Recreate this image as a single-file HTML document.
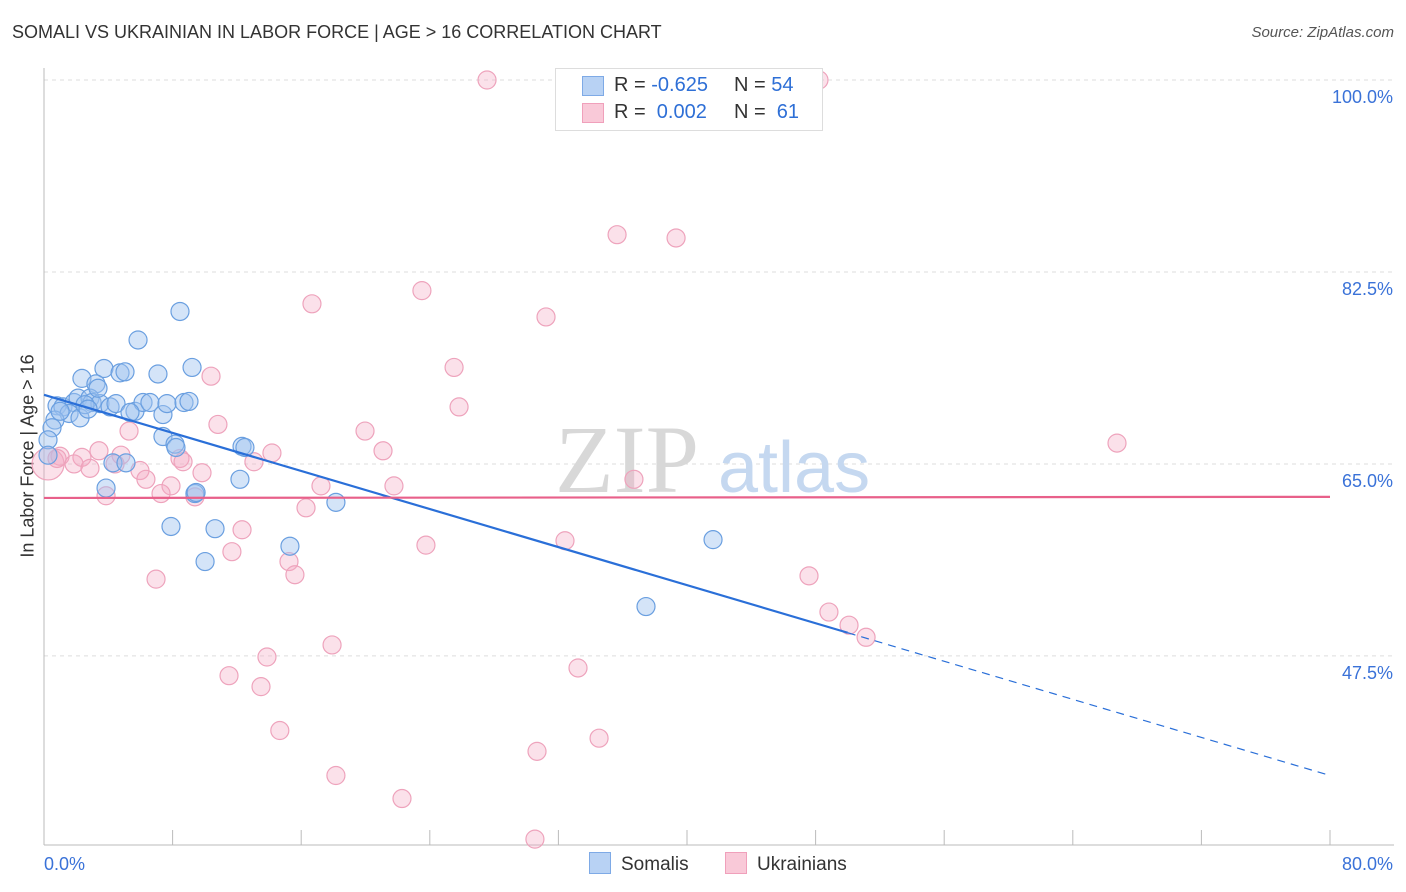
<!DOCTYPE html>
<html><head><meta charset="utf-8">
<style>
body{margin:0;background:#fff;font-family:"Liberation Sans",sans-serif;}
#wrap{position:relative;width:1406px;height:892px;overflow:hidden;}
.t{position:absolute;white-space:nowrap;}
</style></head>
<body>
<div id="wrap">
<div class="t" style="left:12px;top:22px;font-size:18px;color:#333;">SOMALI VS UKRAINIAN IN LABOR FORCE | AGE &gt; 16 CORRELATION CHART</div>
<div class="t" style="right:12px;top:24px;font-size:15px;color:#555;font-style:italic;">Source: ZipAtlas.com</div>
<div class="t" style="left:28px;top:456px;font-size:18px;color:#333;transform:translate(-50%,-50%) rotate(-90deg);">In Labor Force | Age &gt; 16</div>
<svg id="svg" width="1406" height="892" style="position:absolute;left:0;top:0;"></svg>
</div>
<script>
const yTicks=[100,82.5,65,47.5];
const yTickLabels=["100.0%","82.5%","65.0%","47.5%"];
const xTicks=[0,8,16,24,32,40,48,56,64,72,80];
const somaliX=[8.46,5.85,3.73,2.36,3.23,4.73,5.04,7.09,9.21,0.81,1.18,1.87,2.12,2.86,2.99,3.48,4.11,5.66,6.16,6.59,7.40,7.65,8.71,9.02,1.56,2.24,0.68,0.50,0.25,7.40,8.15,8.21,4.29,5.10,12.32,12.50,12.19,3.86,9.39,18.16,7.90,10.64,15.30,10.02,37.45,41.62,3.36,2.55,1.00,2.74,4.48,5.35,0.25,9.46];
const somaliY=[78.9,76.3,73.7,72.8,72.3,73.3,73.4,73.2,73.8,70.3,70.2,70.6,71.0,71.0,70.6,70.5,70.2,69.8,70.6,70.6,69.5,70.5,70.6,70.7,69.6,69.2,69.0,68.3,67.2,67.5,66.8,66.5,65.1,65.1,66.6,66.5,63.6,62.8,62.3,61.5,59.3,59.1,57.5,56.1,52.0,58.1,71.9,70.4,69.8,70.0,70.5,69.7,65.8,62.4];
const ukrX=[27.56,48.21,35.65,39.32,23.51,16.67,31.23,25.51,10.39,25.82,10.82,19.97,5.29,66.75,21.09,14.18,3.42,1.00,2.36,4.79,0.25,0.81,1.87,2.86,4.42,5.97,8.46,8.65,13.06,9.83,6.34,7.90,17.23,21.77,36.70,3.86,7.28,9.39,16.30,12.32,32.41,23.76,11.69,15.24,15.61,6.97,47.59,48.83,50.08,51.14,17.92,13.87,33.22,11.51,13.50,14.67,34.53,30.67,18.16,22.27,30.54];
const ukrY=[100,100,85.9,85.6,80.8,79.6,78.4,73.8,73.0,70.2,68.6,68.0,68.0,66.9,66.2,66.0,66.2,65.7,65.6,65.8,65.0,65.5,65.0,64.6,65.0,64.4,65.5,65.2,65.2,64.2,63.6,63.0,63.0,63.0,63.6,62.1,62.3,62.0,61.0,59.0,58.0,57.6,57.0,56.1,54.9,54.5,54.8,51.5,50.3,49.2,48.5,47.4,46.4,45.7,44.7,40.7,40.0,38.8,36.6,34.5,30.8];
const somaliTrend=[71.3,36.6]; // at x=0, x=80
const somaliSolidEnd=50.0;
const ukrTrend=[61.9,62.0];

const X=v=>44+v*16.075;
const Y=v=>80+(100-v)*10.97;
const svg=document.getElementById('svg');
const NS='http://www.w3.org/2000/svg';
function mk(tag,attrs,parent){const e=document.createElementNS(NS,tag);for(const k in attrs)e.setAttribute(k,attrs[k]);(parent||svg).appendChild(e);return e;}

// grid
yTicks.forEach((t,i)=>{
  const g=mk('line',{x1:44,x2:1394,y1:Y(t),y2:Y(t),stroke:'#dddddd','stroke-dasharray':'4,4'});
  
  
  const tx=mk('text',{x:1393,y:Y(t)+23,'text-anchor':'end','font-size':18,fill:'#3a72d8','font-family':'Liberation Sans, sans-serif'});
  tx.textContent=yTickLabels[i];
  
  
});
// axes
const ya=mk('line',{x1:44,x2:44,y1:68,y2:845,stroke:'#bbb'});


const xa=mk('line',{x1:44,x2:1394,y1:845,y2:845,stroke:'#bbb'});


xTicks.forEach(t=>{
  const l=mk('line',{x1:X(t),x2:X(t),y1:830,y2:845,stroke:'#bbb'});
  
  
});
const xl0=mk('text',{x:44,y:870,'font-size':18,fill:'#3a72d8','font-family':'Liberation Sans, sans-serif'});xl0.textContent='0.0%';


const xl1=mk('text',{x:1393,y:870,'text-anchor':'end','font-size':18,fill:'#3a72d8','font-family':'Liberation Sans, sans-serif'});xl1.textContent='80.0%';



// watermark
const wm=mk('text',{x:555,y:492,'font-size':96,fill:'#d8d8d8','font-family':'Liberation Serif, serif'});wm.textContent='ZIP';


const wm2=mk('text',{x:718,y:492,'font-size':72,fill:'#c5d8f0','font-family':'Liberation Sans, sans-serif'});wm2.textContent='atlas';



// points
ukrX.forEach((x,i)=>{
  const big=(i===20);
  const c=mk('circle',{cx:X(x),cy:Y(ukrY[i]),r:big?16:9,fill:'rgba(244,168,194,0.35)',stroke:'#eea3bc','stroke-width':1.2});
  
  
});
somaliX.forEach((x,i)=>{
  const c=mk('circle',{cx:X(x),cy:Y(somaliY[i]),r:9,fill:'rgba(160,196,240,0.45)',stroke:'#6a9fe0','stroke-width':1.2});
  
  
});
// trend lines
const sy=x=>somaliTrend[0]+(somaliTrend[1]-somaliTrend[0])*x/80;
const t1=mk('line',{x1:X(0),y1:Y(sy(0)),x2:X(somaliSolidEnd),y2:Y(sy(somaliSolidEnd)),stroke:'#2a6fd8','stroke-width':2.2});


const t2=mk('line',{x1:X(somaliSolidEnd),y1:Y(sy(somaliSolidEnd)),x2:X(80),y2:Y(sy(80)),stroke:'#2a6fd8','stroke-width':1.2,'stroke-dasharray':'8,6'});


const t3=mk('line',{x1:X(0),y1:Y(ukrTrend[0]),x2:X(80),y2:Y(ukrTrend[1]),stroke:'#e8608a','stroke-width':2.2});


</script>
<div class="t" style="left:555px;top:68px;width:266px;height:61px;border:1px solid #ddd;background:#fff;font-size:20px;color:#333;">
  <div style="position:absolute;left:26px;top:7px;width:20px;height:18px;background:#b8d2f4;border:1px solid #7eaae6;"></div>
  <div style="position:absolute;left:58px;top:5px;">R = <span style="color:#2e6fd6">-0.625</span></div>
  <div style="position:absolute;left:178px;top:5px;">N = <span style="color:#2e6fd6">54</span></div>
  <div style="position:absolute;left:26px;top:34px;width:20px;height:18px;background:#f9c9d8;border:1px solid #f0a0bb;"></div>
  <div style="position:absolute;left:58px;top:32px;">R = &nbsp;<span style="color:#2e6fd6">0.002</span></div>
  <div style="position:absolute;left:178px;top:32px;">N = &nbsp;<span style="color:#2e6fd6">61</span></div>
</div>
<div class="t" style="left:589px;top:852px;font-size:19px;color:#333;">
  <span style="display:inline-block;width:20px;height:20px;background:#b8d2f4;border:1px solid #7eaae6;vertical-align:-4px;margin-right:10px;"></span>Somalis</div>
<div class="t" style="left:725px;top:852px;font-size:19px;color:#333;">
  <span style="display:inline-block;width:20px;height:20px;background:#f9c9d8;border:1px solid #f0a0bb;vertical-align:-4px;margin-right:10px;"></span>Ukrainians</div>
</body></html>
